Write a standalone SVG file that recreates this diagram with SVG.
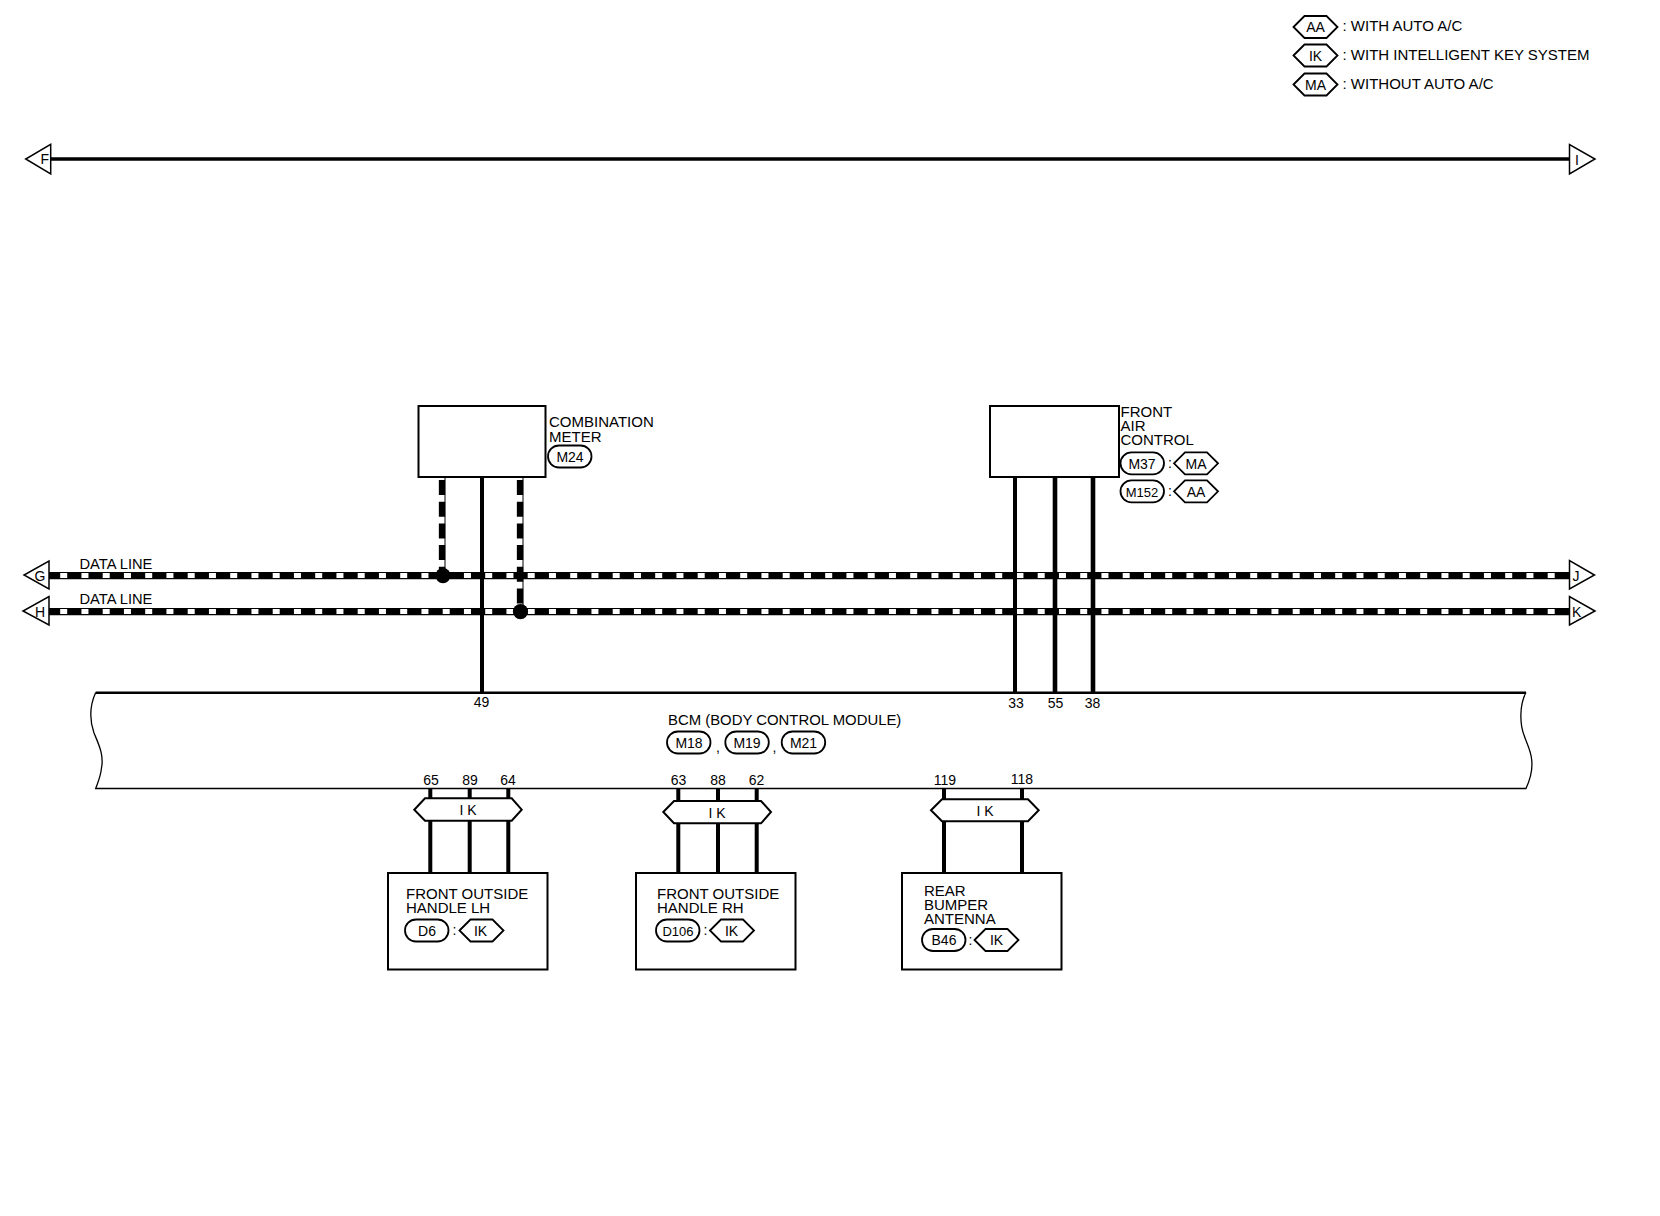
<svg xmlns="http://www.w3.org/2000/svg" width="1660" height="1216" viewBox="0 0 1660 1216">
<style>
text{font-family:"Liberation Sans",Arial,sans-serif;font-size:14px;fill:#000}
.b{font-size:15px}
.c{text-anchor:middle}
.box{fill:#fff;stroke:#000;stroke-width:2}
.pill,.hex{fill:#fff;stroke:#000;stroke-width:1.8}
.flag{fill:#fff;stroke:#000;stroke-width:1.5}
.band{fill:#fff;stroke:#000;stroke-width:2}
.w{fill:none;stroke:#000;stroke-width:4}
.bk{fill:none;stroke:#000;stroke-width:7.4}
.wd{fill:none;stroke:#fff;stroke-width:5;stroke-dasharray:7 14.25}
.vb{fill:none;stroke:#000;stroke-width:6.3;stroke-dasharray:15 6.7}
.thin{fill:none;stroke:#000;stroke-width:1}
</style>
<defs>
<rect id="p" class="pill" x="0" y="-11" width="43.5" height="22" rx="11" ry="11"/>
<polygon id="h" class="hex" points="0,0 11,-11 33,-11 44,0 33,11 11,11"/>
</defs>
<g id="connectors">
<line class="w" x1="51" y1="159" x2="1569" y2="159" style="stroke-width:3.4"/>
<line class="bk" x1="49" y1="575.6" x2="1569" y2="575.6"/>
<line class="wd" x1="60.2" y1="575.6" x2="1560" y2="575.6"/>
<line class="bk" x1="49" y1="611.6" x2="1569" y2="611.6"/>
<line class="wd" x1="60.2" y1="611.6" x2="1560" y2="611.6"/>
<line class="thin" x1="445" y1="477" x2="445" y2="576"/>
<line class="thin" x1="523" y1="477" x2="523" y2="612"/>
<line class="vb" x1="442" y1="480" x2="442" y2="576"/>
<line class="vb" x1="520" y1="480" x2="520" y2="612"/>
<line class="w" x1="482" y1="477" x2="482" y2="693"/>
<line class="w" x1="1015" y1="477" x2="1015" y2="693"/>
<line class="w" x1="1055" y1="477" x2="1055" y2="693" style="stroke-width:4.6"/>
<line class="w" x1="1093" y1="477" x2="1093" y2="693" style="stroke-width:4.6"/>
<circle cx="443" cy="575.6" r="7.6"/>
<circle cx="520.5" cy="611.6" r="7.6"/>
<path class="w" d="M430.3 789V873M469.7 789V873M508.3 789V873M678.3 789V873M718 789V873M756.7 789V873M944 789V873M1022 789V873"/>
</g>
<g id="legend">
<use href="#h" transform="translate(1293.5 27)"/><text class="c" x="1315.5" y="32">AA</text><text class="b" x="1342.5" y="30.5">: WITH AUTO A/C</text>
<use href="#h" transform="translate(1293.5 55.5)"/><text class="c" x="1315.5" y="60.5">IK</text><text class="b" x="1342.5" y="59.5">: WITH INTELLIGENT KEY SYSTEM</text>
<use href="#h" transform="translate(1293.5 84.5)"/><text class="c" x="1315.5" y="89.5">MA</text><text class="b" x="1342.5" y="88.5">: WITHOUT AUTO A/C</text>
</g>
<g id="flag-F"><polygon class="flag" points="50.7,144.3 50.7,174 25.7,159"/><text x="40.5" y="164">F</text></g>
<g id="flag-I"><polygon class="flag" points="1569.5,144.5 1569.5,174 1595,159"/><text x="1575" y="165">I</text></g>
<g id="flag-G"><polygon class="flag" points="49,561 49,589 24,575"/><text x="34.5" y="581">G</text></g>
<g id="flag-H"><polygon class="flag" points="49,596.5 49,625 23,611"/><text x="35" y="617">H</text></g>
<g id="flag-J"><polygon class="flag" points="1569.5,560.5 1569.5,589 1594.5,575"/><text x="1572.5" y="581">J</text></g>
<g id="flag-K"><polygon class="flag" points="1569.5,596.5 1569.5,625 1595,611"/><text x="1572" y="617">K</text></g>
<g id="data-labels"><text class="b" style="font-size:14.7px" x="79.5" y="569">DATA LINE</text><text class="b" style="font-size:14.7px" x="79.5" y="604">DATA LINE</text></g>
<g id="combination-meter">
<rect class="box" x="418.5" y="406" width="127" height="71"/>
<text class="b" x="549" y="427">COMBINATION</text><text class="b" x="549" y="442">METER</text>
<use href="#p" transform="translate(548 456.5)"/><text class="c" x="570" y="462">M24</text>
</g>
<g id="front-air-control">
<rect class="box" x="990" y="406" width="129" height="71"/>
<text class="b" x="1120.5" y="417">FRONT</text><text class="b" x="1120.5" y="431">AIR</text><text class="b" x="1120.5" y="445">CONTROL</text>
<use href="#p" transform="translate(1120.5 463.3)"/><text class="c" x="1142" y="468.5">M37</text><text x="1168" y="468">:</text>
<use href="#h" transform="translate(1174 463.3)"/><text class="c" x="1196" y="468.5">MA</text>
<use href="#p" transform="translate(1120.5 491.3)"/><text class="c" x="1142" y="496.5" style="font-size:13px">M152</text><text x="1168" y="496">:</text>
<use href="#h" transform="translate(1174 491.3)"/><text class="c" x="1196" y="496.5">AA</text>
</g>
<g id="bcm">
<path fill="#fff" stroke="none" d="M95.7 692.5H1526V788.5H95.7Z"/>
<path class="thin" style="stroke-width:1.3" d="M95.7 692.5C90 705 89.5 720 94 733C99 745 104 755 101.5 768C100.5 777 98 782 95.7 788.5H1526C1529 782 1533 772 1531.7 760C1531 750 1526 742 1524 735C1520 725 1519 705 1526 692.5"/>
<line x1="95.7" y1="692.7" x2="1526" y2="692.7" stroke="#000" stroke-width="2.4"/>
<text x="668" y="725" style="font-size:14.9px">BCM (BODY CONTROL MODULE)</text>
<use href="#p" transform="translate(667 742.5)"/><text class="c" x="689" y="747.5">M18</text><text x="716" y="752">,</text>
<use href="#p" transform="translate(725.3 742.5)"/><text class="c" x="747" y="747.5">M19</text><text x="772.5" y="752">,</text>
<use href="#p" transform="translate(781.7 742.5)"/><text class="c" x="803.5" y="747.5">M21</text>
<text class="c" x="481.5" y="706.5">49</text><text class="c" x="1016" y="708">33</text><text class="c" x="1055.5" y="708">55</text><text class="c" x="1092.5" y="708">38</text>
<text class="c" x="431" y="785">65</text><text class="c" x="470" y="785">89</text><text class="c" x="508" y="785">64</text>
<text class="c" x="678.5" y="785">63</text><text class="c" x="718" y="785">88</text><text class="c" x="756.5" y="785">62</text>
<text class="c" x="945" y="785">119</text><text class="c" x="1022" y="784">118</text>
</g>
<g id="band-lh"><polygon class="band" points="414.3,809.7 425,798.3 511.7,798.3 521.7,809.7 511.7,820.7 425,820.7"/><text class="c" x="468" y="815">I K</text></g>
<g id="band-rh"><polygon class="band" points="663.3,812 674,801 761,801 771,812 761,823.3 674,823.3"/><text class="c" x="717" y="817.5">I K</text></g>
<g id="band-rear"><polygon class="band" points="931,810.3 942,799.3 1028,799.3 1038.7,810.3 1028,821.3 942,821.3"/><text class="c" x="985" y="816">I K</text></g>
<g id="front-outside-handle-lh">
<rect class="box" x="388" y="873" width="159.5" height="96.5"/>
<text class="b" x="406" y="899">FRONT OUTSIDE</text><text class="b" x="406" y="912.7">HANDLE LH</text>
<use href="#p" transform="translate(405 930.5)"/><text class="c" x="427" y="935.5">D6</text><text x="452.5" y="935">:</text>
<use href="#h" transform="translate(459.5 930.5)"/><text class="c" x="480.5" y="935.5">IK</text>
</g>
<g id="front-outside-handle-rh">
<rect class="box" x="636" y="873" width="159.5" height="96.5"/>
<text class="b" x="657" y="899">FRONT OUTSIDE</text><text class="b" x="657" y="912.7">HANDLE RH</text>
<use href="#p" transform="translate(656 930.5)"/><text class="c" x="678" y="935.5" style="font-size:13px">D106</text><text x="703.5" y="935">:</text>
<use href="#h" transform="translate(710 930.5)"/><text class="c" x="731.5" y="935.5">IK</text>
</g>
<g id="rear-bumper-antenna">
<rect class="box" x="902" y="873" width="159.5" height="96.5"/>
<text class="b" x="924" y="895.7">REAR</text><text class="b" x="924" y="910">BUMPER</text><text class="b" x="924" y="924">ANTENNA</text>
<use href="#p" transform="translate(922 940)"/><text class="c" x="944" y="945">B46</text><text x="968.5" y="945">:</text>
<use href="#h" transform="translate(974.5 940)"/><text class="c" x="996.5" y="945">IK</text>
</g>
</svg>
